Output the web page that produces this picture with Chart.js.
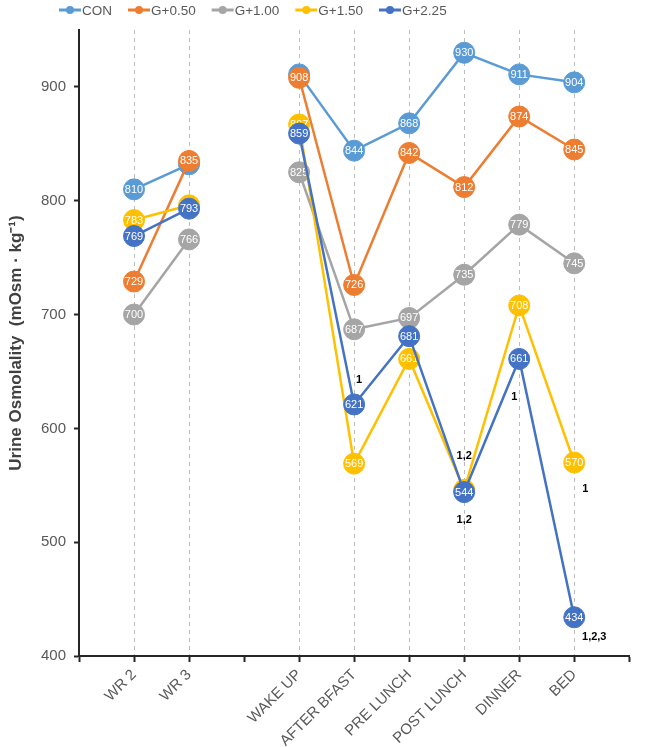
<!DOCTYPE html>
<html>
<head>
<meta charset="utf-8">
<script src="https://cdn.jsdelivr.net/npm/chart.js@4.4.0/dist/chart.umd.min.js"></script>
<style>
  html, body { margin: 0; padding: 0; background: #fff; }
</style>
</head>
<body>
<canvas id="osmChart" width="646" height="747"></canvas>
<script>
// empty slots keep the axis ends and the gap between WR 3 and WAKE UP
const categories = ['', 'WR 2', 'WR 3', '', 'WAKE UP', 'AFTER BFAST', 'PRE LUNCH', 'POST LUNCH', 'DINNER', 'BED', ''];
const seriesNames = ['CON', 'G+0.50', 'G+1.00', 'G+1.50', 'G+2.25'];
const seriesColors = ['#5B9BD5', '#ED7D31', '#A5A5A5', '#FFC000', '#4472C4'];

const conValues = [null, 810, 832, null, 911, 844, 868, 930, 911, 904, null];
const g050Values = [null, 729, 835, null, 908, 726, 842, 812, 874, 845, null];
const g100Values = [null, 700, 766, null, 825, 687, 697, 735, 779, 745, null];
const g150Values = [null, 783, 796, null, 867, 569, 661, 546, 708, 570, null];
const g225Values = [null, 769, 793, null, 859, 621, 681, 544, 661, 434, null];

const yTicks = [400, 500, 600, 700, 800, 900];

// significance marks, attached to a point of a series
const noteText = ['1', '1,2', '1,2', '1', '1', '1,2,3'];
const noteSeries = [4, 4, 4, 4, 3, 4];
const noteCategory = ['AFTER BFAST', 'POST LUNCH', 'POST LUNCH', 'DINNER', 'BED', 'BED'];
const noteOffset = [[5, -24], [0, -36], [0, 28], [-5, 38], [11, 26], [20, 20]];

const allValues = [conValues, g050Values, g100Values, g150Values, g225Values];
const AXIS_FONT = '"Liberation Sans", Arial, sans-serif';

const datasets = seriesNames.map((name, i) => ({
  label: name,
  data: allValues[i],
  borderColor: seriesColors[i],
  backgroundColor: seriesColors[i],
  borderWidth: 2.5,
  pointRadius: 10.5,
  pointHoverRadius: 10.5,
  pointBorderWidth: 1,
  pointBackgroundColor: seriesColors[i],
  pointBorderColor: seriesColors[i],
  spanGaps: false,
  tension: 0,
  clip: false,
  order: seriesNames.length - i
}));

const valueLabels = {
  id: 'valueLabels',
  afterDatasetDraw(chart, args) {
    const c = chart.ctx;
    const values = chart.data.datasets[args.index].data;
    c.save();
    c.font = '11px ' + AXIS_FONT;
    c.fillStyle = '#ffffff';
    c.textAlign = 'center';
    c.textBaseline = 'middle';
    args.meta.data.forEach((pt, j) => {
      if (values[j] == null) return;
      c.fillText(String(values[j]), pt.x, pt.y + 0.5);
    });
    c.restore();
  }
};

const notes = {
  id: 'notes',
  afterDatasetsDraw(chart) {
    const c = chart.ctx;
    c.save();
    c.font = 'bold 11px ' + AXIS_FONT;
    c.fillStyle = '#000000';
    c.textAlign = 'center';
    c.textBaseline = 'middle';
    noteText.forEach((t, i) => {
      const meta = chart.getDatasetMeta(noteSeries[i]);
      const pt = meta.data[categories.indexOf(noteCategory[i])];
      c.fillText(t, pt.x + noteOffset[i][0], pt.y + noteOffset[i][1]);
    });
    c.restore();
  }
};

const topLegend = {
  id: 'topLegend',
  afterDraw(chart) {
    const c = chart.ctx;
    c.save();
    c.font = '13.5px ' + AXIS_FONT;
    c.textBaseline = 'middle';
    c.textAlign = 'left';
    let x = 59;
    const y = 10;
    chart.data.datasets.forEach(ds => {
      c.strokeStyle = ds.borderColor;
      c.lineWidth = 3;
      c.beginPath();
      c.moveTo(x, y);
      c.lineTo(x + 22, y);
      c.stroke();
      c.fillStyle = ds.borderColor;
      c.beginPath();
      c.arc(x + 11, y, 4, 0, Math.PI * 2);
      c.fill();
      c.fillStyle = '#595959';
      c.fillText(ds.label, x + 23, y + 1);
      x += 23 + c.measureText(ds.label).width + 16;
    });
    c.restore();
  }
};

new Chart(document.getElementById('osmChart').getContext('2d'), {
  type: 'line',
  data: { labels: categories, datasets },
  plugins: [valueLabels, notes, topLegend],
  options: {
    responsive: false,
    animation: false,
    layout: { padding: { top: 30, right: 4, left: 0, bottom: 0 } },
    plugins: {
      legend: { display: false },
      tooltip: { enabled: false }
    },
    scales: {
      x: {
        type: 'category',
        offset: false,
        afterFit: scale => { scale.height = 91; },
        border: { display: true, color: '#262626', width: 2, dash: [4, 4] },
        grid: {
          color: ctx => (categories[ctx.index] ? '#BDBDBD' : 'rgba(0,0,0,0)'),
          lineWidth: 1,
          drawTicks: true,
          tickLength: 6,
          tickColor: '#262626',
          tickWidth: 2
        },
        ticks: {
          autoSkip: false,
          minRotation: 45,
          maxRotation: 45,
          padding: 4,
          color: '#595959',
          font: { family: AXIS_FONT, size: 15 }
        }
      },
      y: {
        min: 400,
        max: 950,
        afterFit: scale => { scale.width = 79; },
        afterBuildTicks: scale => { scale.ticks = yTicks.map(v => ({ value: v })); },
        border: { display: true, color: '#262626', width: 2 },
        grid: {
          drawOnChartArea: false,
          drawTicks: true,
          tickLength: 5,
          tickColor: '#262626',
          tickWidth: 2
        },
        ticks: {
          padding: 8,
          color: '#595959',
          font: { family: AXIS_FONT, size: 15 }
        },
        title: {
          display: true,
          text: 'Urine Osmolality  (mOsm · kg⁻¹)',
          color: '#404040',
          font: { family: AXIS_FONT, size: 17, weight: 'bold' },
          padding: { top: 6, bottom: 0 }
        }
      }
    }
  }
});
</script>
</body>
</html>
